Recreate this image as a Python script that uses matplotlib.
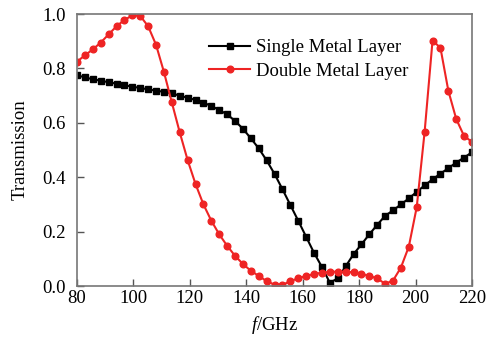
import numpy as np
import matplotlib
matplotlib.use("Agg")
import matplotlib.pyplot as plt

# frequency grid (GHz)
freq = [80.0, 82.8, 85.6, 88.4, 91.2, 94.0, 96.8, 99.6, 102.4, 105.2,
        108.0, 110.8, 113.6, 116.4, 119.2, 122.0, 124.8, 127.6, 130.4, 133.2,
        136.0, 138.8, 141.6, 144.4, 147.2, 150.0, 152.8, 155.6, 158.4, 161.2,
        164.0, 166.8, 169.6, 172.4, 175.2, 178.0, 180.8, 183.6, 186.4, 189.2,
        192.0, 194.8, 197.6, 200.4, 203.2, 206.0, 208.8, 211.6, 214.4, 217.2,
        220.0]

single = [0.775, 0.767, 0.760, 0.755, 0.749, 0.744, 0.738, 0.733, 0.728, 0.723,
          0.718, 0.714, 0.708, 0.700, 0.692, 0.684, 0.674, 0.662, 0.647, 0.631,
          0.607, 0.578, 0.543, 0.506, 0.462, 0.412, 0.356, 0.298, 0.240, 0.181,
          0.122, 0.070, 0.012, 0.028, 0.072, 0.117, 0.153, 0.190, 0.225, 0.258,
          0.278, 0.300, 0.322, 0.346, 0.370, 0.392, 0.413, 0.433, 0.454, 0.472,
          0.492]

double = [0.825, 0.848, 0.870, 0.895, 0.925, 0.955, 0.978, 0.995, 0.993, 0.955,
          0.887, 0.787, 0.675, 0.565, 0.463, 0.375, 0.300, 0.240, 0.190, 0.148,
          0.111, 0.081, 0.056, 0.037, 0.018, 0.005, 0.004, 0.018, 0.028, 0.037,
          0.044, 0.049, 0.052, 0.053, 0.053, 0.050, 0.045, 0.037, 0.028, 0.008,
          0.020, 0.068, 0.145, 0.290, 0.567, 0.902, 0.876, 0.718, 0.614, 0.551,
          0.530]

xticks = [80, 100, 120, 140, 160, 180, 200, 220]
yticks = [0.0, 0.2, 0.4, 0.6, 0.8, 1.0]

plt.rcParams["font.family"] = ["Liberation Serif", "DejaVu Serif"]
plt.rcParams["mathtext.fontset"] = "custom"
plt.rcParams["mathtext.it"] = "Liberation Serif:italic"
plt.rcParams["mathtext.rm"] = "Liberation Serif"

fs = 13.5
fig = plt.figure(figsize=(4.95, 3.4), dpi=100)
ax = fig.add_axes([0.1556, 0.1588, 0.798, 0.80])

ax.plot(freq, single, "-s", color="black", lw=1.5, ms=4.2, label="Single Metal Layer")
ax.plot(freq, double, "-o", color="#ee2424", lw=1.5, ms=4.8, label="Double Metal Layer")

ax.set_xlim(80, 220)
ax.set_ylim(0, 1.0)
ax.set_xticks(xticks)
ax.set_yticks(yticks)
ax.set_yticklabels([f"{v:.1f}" for v in yticks])
ax.tick_params(direction="in", length=5, width=1, color="#555555", labelsize=fs)
ax.tick_params(axis="y", pad=8)
ax.tick_params(axis="x", pad=3)
for s in ax.spines.values():
    s.set_color("#777777")
    s.set_linewidth(1.2)

ax.set_xlabel(r"$f$/GHz", fontsize=fs, labelpad=5)
ax.set_ylabel("Transmission", fontsize=fs, labelpad=10)

ax.legend(loc="upper left", bbox_to_anchor=(0.315, 0.935), frameon=False, fontsize=fs,
          handlelength=2.2, handletextpad=0.3, labelspacing=0.35, borderaxespad=0)

fig.savefig("out.png", dpi=100)
